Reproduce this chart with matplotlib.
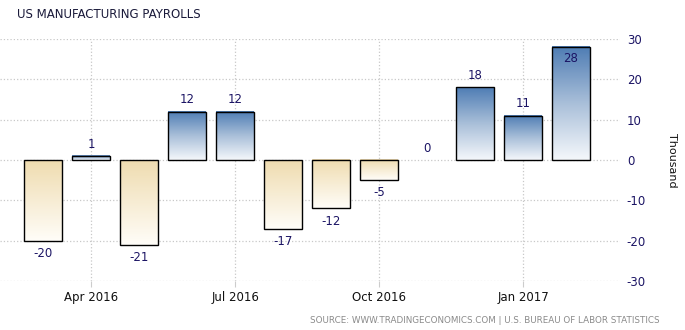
import numpy as np
import matplotlib.pyplot as plt
from matplotlib.colors import LinearSegmentedColormap

# Dados (milhares)
meses = ['Mar 2016', 'Apr 2016', 'May 2016', 'Jun 2016', 'Jul 2016', 'Aug 2016',
         'Sep 2016', 'Oct 2016', 'Nov 2016', 'Dec 2016', 'Jan 2017', 'Feb 2017']
valores = [-20, 1, -21, 12, 12, -17, -12, -5, 0, 18, 11, 28]
tick_pos = [1, 4, 7, 10]
tick_labels = ['Apr 2016', 'Jul 2016', 'Oct 2016', 'Jan 2017']
y_ticks = [-30, -20, -10, 0, 10, 20, 30]

cor_texto = '#1b1464'
cmap_pos = LinearSegmentedColormap.from_list('pos', ['#f4f7fb', '#a9bfd9', '#4f7db4'])
cmap_neg = LinearSegmentedColormap.from_list('neg', ['#fffdf8', '#efdcb0'])

fig = plt.figure(figsize=(6.85, 3.3), dpi=100)
ax = fig.add_axes([0.0, 0.148, 0.905, 0.734])

x = np.arange(len(valores))
bordas = ['none' if v == 0 else 'black' for v in valores]
barras = ax.bar(x, valores, width=0.79, facecolor='none', edgecolor=bordas,
                linewidth=1.0, zorder=3)

# gradiente dentro de cada barra
grad = np.linspace(0, 1, 100).reshape(-1, 1)
for b, v in zip(barras, valores):
    if v == 0:
        continue
    x0, y0 = b.get_x(), b.get_y()
    w, h = b.get_width(), b.get_height()
    cmap = cmap_pos if v > 0 else cmap_neg
    ax.imshow(grad, cmap=cmap, aspect='auto', origin='lower',
              extent=[x0, x0 + w, min(y0, y0 + h), max(y0, y0 + h)], zorder=2)

# rótulos
for xi, v in zip(x, valores):
    if v >= 25:
        ax.text(xi, v - 1.2, str(v), ha='center', va='top', fontsize=8.5, color=cor_texto)
    elif v >= 0:
        ax.text(xi, v + 1.3, str(v), ha='center', va='bottom', fontsize=8.5, color=cor_texto)
    else:
        ax.text(xi, v - 1.5, str(v), ha='center', va='top', fontsize=8.5, color=cor_texto)

ax.set_xlim(-0.9, 12.02)
ax.set_ylim(-30, 30)
ax.set_xticks(tick_pos)
ax.set_xticklabels(tick_labels, fontsize=8.5, color='#111111')
ax.set_yticks(y_ticks)
ax.set_yticklabels([str(t) for t in y_ticks], fontsize=8.5, color=cor_texto)
ax.yaxis.tick_right()
ax.tick_params(axis='y', length=0, pad=5)
ax.tick_params(axis='x', length=4, color='#cccccc', pad=3)
ax.grid(True, linestyle=':', color='#c8c8c8', linewidth=0.9, zorder=0)
for s in ax.spines.values():
    s.set_visible(False)

fig.text(0.981, 0.515, 'Thousand', rotation=-90, ha='center', va='center',
         fontsize=8, color='#111111')
fig.text(0.025, 0.955, 'US MANUFACTURING PAYROLLS', fontsize=8.5, color='#1a1a3a',
         ha='left', va='center')
fig.text(0.963, 0.028, 'SOURCE: WWW.TRADINGECONOMICS.COM | U.S. BUREAU OF LABOR STATISTICS',
         fontsize=6.3, color='#8a8a8a', ha='right', va='center')

fig.savefig('out.png', dpi=100)
